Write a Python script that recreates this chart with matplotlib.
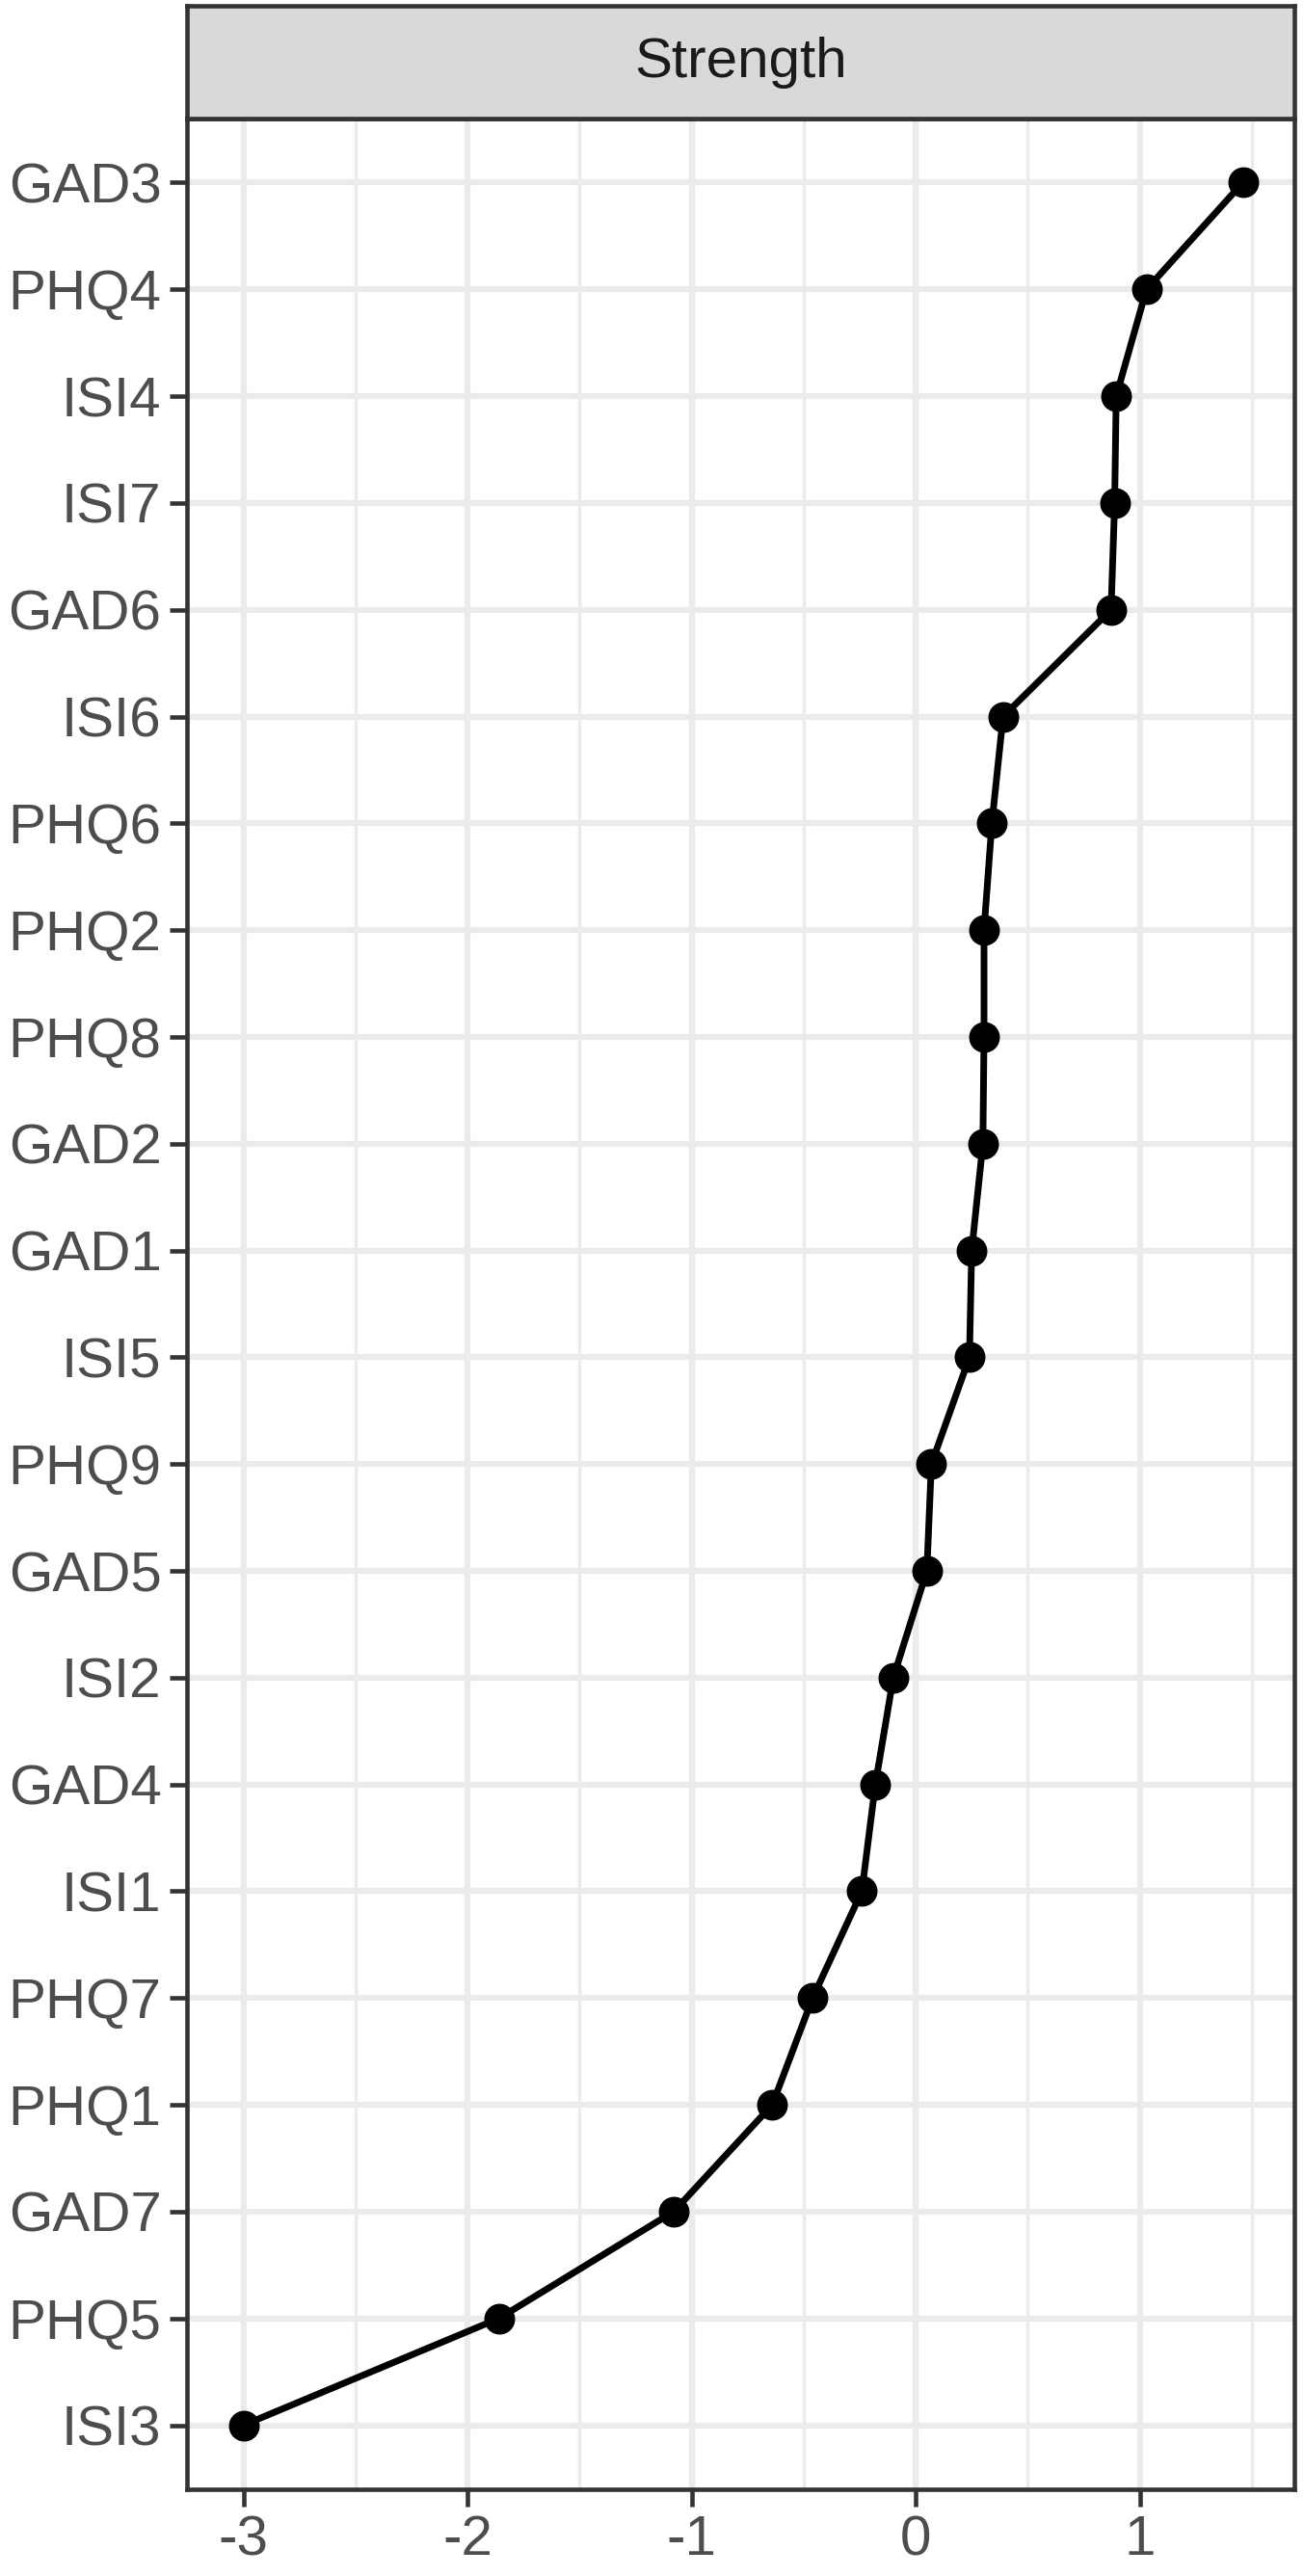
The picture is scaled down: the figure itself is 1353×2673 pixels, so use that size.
import numpy as np
import matplotlib
matplotlib.use('Agg')
import matplotlib.pyplot as plt
from matplotlib.ticker import MultipleLocator

plt.rcParams['font.family'] = ['Liberation Sans', 'DejaVu Sans']

# items from top to bottom, with strength (z-scores)
items = ['GAD3', 'PHQ4', 'ISI4', 'ISI7', 'GAD6', 'ISI6', 'PHQ6', 'PHQ2', 'PHQ8', 'GAD2', 'GAD1',
         'ISI5', 'PHQ9', 'GAD5', 'ISI2', 'GAD4', 'ISI1', 'PHQ7', 'PHQ1', 'GAD7', 'PHQ5', 'ISI3']
strength = [1.46, 1.03, 0.895, 0.888, 0.872, 0.39, 0.34, 0.305, 0.305, 0.30, 0.25,
            0.24, 0.07, 0.05, -0.10, -0.18, -0.24, -0.46, -0.64, -1.08, -1.86, -3.0]
xticks = [-3, -2, -1, 0, 1]

W, H = 1353, 2673
fig = plt.figure(figsize=(W / 100, H / 100), dpi=100)

left, right = 194 / W, 1343 / W
ax = fig.add_axes([left, 1 - 2583 / H, right - left, (2583 - 123) / H])
strip = fig.add_axes([left, 1 - 123 / H, right - left, (123 - 6) / H])

ypos = np.arange(len(items))[::-1] + 1
ax.plot(strength, ypos, color='black', lw=5, marker='o', markersize=22, zorder=3)

ax.set_xlim(-3.252, 1.69)
ax.set_ylim(0.4, len(items) + 0.6)
ax.set_yticks(ypos)
ax.set_yticklabels(items)
ax.set_xticks(xticks)
ax.set_xticklabels([str(t) for t in xticks])
ax.xaxis.set_minor_locator(MultipleLocator(0.5))

ax.grid(which='major', color='#EBEBEB', lw=4.5, zorder=0)
ax.grid(which='minor', axis='x', color='#EBEBEB', lw=2.5, zorder=0)
ax.set_axisbelow(True)
ax.tick_params(which='major', length=13, width=3.3, color='#333333',
               labelsize=42, labelcolor='#4D4D4D', pad=6)
ax.tick_params(which='minor', length=0)
for s in ax.spines.values():
    s.set_color('#333333')
    s.set_linewidth(3.3)

strip.set_facecolor('#D9D9D9')
strip.set_xticks([])
strip.set_yticks([])
for s in strip.spines.values():
    s.set_color('#333333')
    s.set_linewidth(3.3)
strip.text(0.5, 0.5, 'Strength', ha='center', va='center', fontsize=42,
           color='#1A1A1A', transform=strip.transAxes)

fig.savefig('out.png', dpi=100)
